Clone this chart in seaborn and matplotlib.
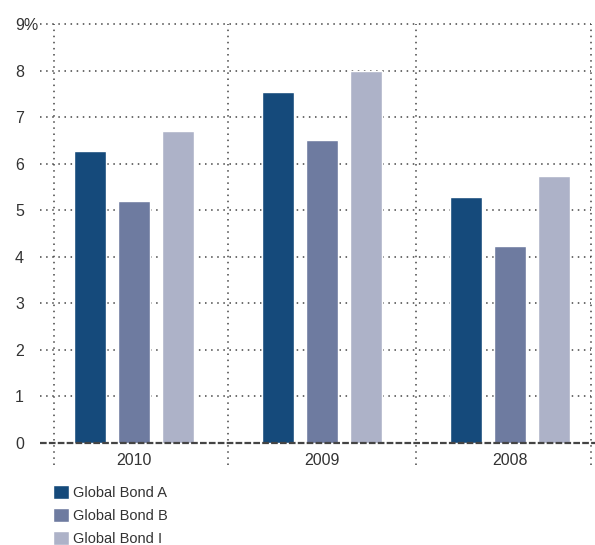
"""
Grouped bar chart: yearly returns of three global bond funds.
"""
import numpy  as np
import pandas as pd
import matplotlib
matplotlib.use("Agg")
import matplotlib.pyplot as plt
import seaborn           as sns

# ================================================================================
# Data
# ================================================================================
YEARS    = ["2010", "2009", "2008"]
FUNDS    = ["Global Bond A", "Global Bond B", "Global Bond I"]
BOND_A   = [6.27, 7.55, 5.28]
BOND_B   = [5.19, 6.50, 4.23]
BOND_I   = [6.70, 8.00, 5.73]
Y_TICKS  = [0, 1, 2, 3, 4, 5, 6, 7, 8, 9]
Y_LABELS = ["0", "1", "2", "3", "4", "5", "6", "7", "8", "9%"]

COLORS   = ["#154a7b", "#6e7ba0", "#adb2c8"]
TEXT_COL = "#333333"
GRID_COL = "#444444"

df = pd.DataFrame({
    "year"  : np.repeat(YEARS, len(FUNDS)),
    "fund"  : FUNDS * len(YEARS),
    "value" : [v for trio in zip(BOND_A, BOND_B, BOND_I) for v in trio],
})

# ================================================================================
# Plot
# ================================================================================
sns.set_theme(style="white")
plt.rcParams["font.family"] = ["Liberation Sans", "DejaVu Sans"]

fig = plt.figure(figsize=(5.95, 5.45), dpi=100)
ax  = fig.add_axes([54/595, 1 - 443/545, (591 - 54)/595, (443 - 24)/545])

sns.barplot(data=df, x="year", y="value", hue="fund", palette=COLORS,
            width=0.70, gap=0.28, ax=ax, legend=True, saturation=1)

ax.set_xlim(-0.426, 2.43)
ax.set_ylim(0, 9)
ax.set_xlabel("")
ax.set_ylabel("")
for s in ax.spines.values():
    s.set_visible(False)

# Dotted horizontal grid (runs a little past the left edge)
DOT = (0, (1, 3))
for y in Y_TICKS[1:]:
    ax.axhline(y, xmin=-0.026, xmax=1.0, color=GRID_COL, lw=1.1,
               linestyle=DOT, clip_on=False, zorder=0)
# Baseline
ax.axhline(0, xmin=-0.026, xmax=1.008, color="#444444", lw=1.6,
           linestyle=(0, (3, 1)), clip_on=False, zorder=3)
# Vertical separators (drop below the axis)
for x in [-0.426, 0.5, 1.5, 2.43]:
    ax.axvline(x, ymin=-0.053, ymax=1.0, color=GRID_COL, lw=1.1,
               linestyle=DOT, clip_on=False, zorder=0)

# Ticks
ax.set_yticks(Y_TICKS, Y_LABELS)
ax.tick_params(axis="y", length=0, pad=39 * 72 / 100, labelsize=11.5, labelcolor=TEXT_COL)
for lab in ax.get_yticklabels():
    lab.set_horizontalalignment("left")
ax.tick_params(axis="x", length=0, pad=7, labelsize=11.5, labelcolor=TEXT_COL)

# Legend below the chart
handles, labels = ax.get_legend_handles_labels()
ax.legend(handles, labels,
    loc            = "upper left",
    bbox_to_anchor = (53/595, 1 - 485/545),
    bbox_transform = fig.transFigure,
    frameon        = False,
    borderpad      = 0,
    borderaxespad  = 0,
    handlelength   = 1.1,
    handleheight   = 1.1,
    handletextpad  = 0.3,
    labelspacing   = 0.55,
    fontsize       = 10.5,
    labelcolor     = TEXT_COL,
)

fig.savefig("out.png", dpi=100)
